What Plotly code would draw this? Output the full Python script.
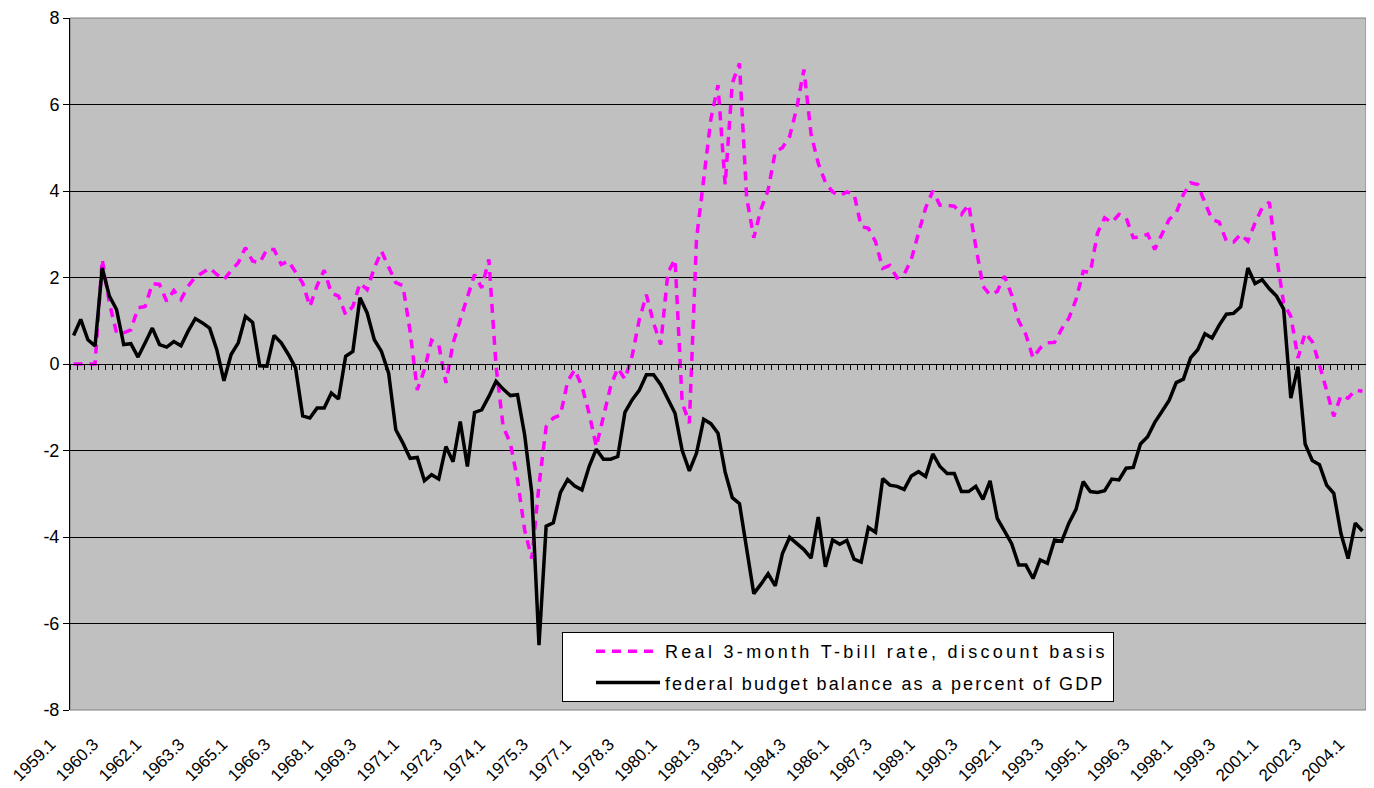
import plotly.graph_objects as go

quarters = [f"{y}.{q}" for y in range(1959, 2005) for q in range(1, 5)][:181]
tick_labels = quarters[::6]

tbill_real = [
    0, 0, 0, 0, 2.42, 1.41, 0.72, 0.72, 0.79, 1.30,
    1.33, 1.86, 1.84, 1.45, 1.70, 1.49, 1.80, 2.01, 2.11, 2.22,
    2.07, 1.95, 2.16, 2.34, 2.69, 2.38, 2.34, 2.65, 2.65, 2.30,
    2.38, 2.14, 1.87, 1.33, 1.81, 2.17, 1.64, 1.57, 1.14, 1.33,
    1.87, 1.72, 2.22, 2.61, 2.22, 1.88, 1.81, 0.75, -0.60, -0.13,
    0.55, 0.45, -0.44, 0.48, 1.02, 1.53, 2.07, 1.76, 2.42, -0.05,
    -1.45, -1.83, -2.68, -3.84, -4.50, -2.80, -1.45, -1.25, -1.18, -0.40,
    -0.13, -0.52, -1.14, -1.91, -1.22, -0.52, -0.09, -0.35, 0.18, 1.02,
    1.60, 0.95, 0.45, 2.11, 2.42, -0.90, -1.37, 2.90, 4.27, 5.66,
    6.45, 4.15, 6.50, 6.95, 3.85, 2.92, 3.58, 4.02, 4.91, 5.00,
    5.26, 5.92, 6.81, 5.31, 4.64, 4.20, 3.98, 3.89, 3.98, 3.93,
    3.18, 3.14, 2.83, 2.21, 2.28, 1.99, 2.07, 2.42, 3.03, 3.61,
    4.00, 3.67, 3.67, 3.65, 3.46, 3.69, 2.72, 1.80, 1.60, 1.68,
    2.03, 1.60, 0.99, 0.68, 0.14, 0.37, 0.49, 0.50, 0.81, 1.06,
    1.49, 2.14, 2.12, 3.03, 3.38, 3.27, 3.46, 3.38, 2.92, 2.94,
    3.00, 2.65, 3.00, 3.34, 3.50, 3.92, 4.19, 4.15, 3.73, 3.34,
    3.28, 2.84, 2.82, 3.00, 2.84, 3.26, 3.61, 3.74, 2.49, 1.41,
    1.10, 0.14, 0.72, 0.52, -0.02, -0.63, -1.21, -0.73, -0.79, -0.60,
    -0.63,
]

budget_balance = [
    0.66, 1.03, 0.56, 0.42, 2.22, 1.57, 1.26, 0.45, 0.47, 0.16,
    0.49, 0.83, 0.45, 0.39, 0.52, 0.42, 0.76, 1.05, 0.95, 0.83,
    0.33, -0.39, 0.22, 0.49, 1.10, 0.96, -0.04, -0.05, 0.66, 0.49,
    0.22, -0.09, -1.20, -1.25, -1.02, -1.02, -0.67, -0.81, 0.18, 0.29,
    1.53, 1.18, 0.56, 0.29, -0.21, -1.52, -1.83, -2.18, -2.16, -2.70,
    -2.56, -2.66, -1.91, -2.26, -1.33, -2.37, -1.12, -1.06, -0.75, -0.40,
    -0.58, -0.73, -0.71, -1.64, -2.99, -6.50, -3.75, -3.67, -2.97, -2.67,
    -2.82, -2.91, -2.37, -1.97, -2.20, -2.20, -2.14, -1.12, -0.83, -0.61,
    -0.25, -0.25, -0.48, -0.81, -1.14, -2.00, -2.47, -2.06, -1.28, -1.38,
    -1.60, -2.50, -3.09, -3.23, -4.33, -5.31, -5.09, -4.85, -5.13, -4.38,
    -4.01, -4.16, -4.29, -4.49, -3.54, -4.69, -4.07, -4.17, -4.08, -4.51,
    -4.58, -3.78, -3.89, -2.65, -2.80, -2.83, -2.90, -2.59, -2.49, -2.60,
    -2.08, -2.37, -2.53, -2.53, -2.95, -2.95, -2.83, -3.13, -2.70, -3.57,
    -3.88, -4.15, -4.65, -4.65, -4.96, -4.53, -4.61, -4.07, -4.10, -3.68,
    -3.36, -2.72, -2.95, -2.97, -2.93, -2.66, -2.68, -2.41, -2.39, -1.85,
    -1.68, -1.35, -1.10, -0.84, -0.43, -0.35, 0.14, 0.33, 0.70, 0.60,
    0.90, 1.15, 1.17, 1.32, 2.22, 1.86, 1.95, 1.74, 1.57, 1.27,
    -0.79, -0.06, -1.85, -2.23, -2.33, -2.80, -2.99, -3.92, -4.50, -3.68,
    -3.86,
]

y_ticks = [-8, -6, -4, -2, 0, 2, 4, 6, 8]
series_names = ["Real 3-month T-bill rate, discount basis",
                "federal budget balance as a percent of GDP"]

FONT = "Liberation Sans, Arial, sans-serif"


def spaced(text, px):
    return f'<span style="letter-spacing:{px}px">{text}</span>'


fig = go.Figure()
fig.add_trace(go.Scatter(
    x=quarters, y=tbill_real, mode="lines", name=spaced(series_names[0], 3.3),
    legendgroup="a",
    line=dict(color="#FF00FF", width=3.5, dash="9px,7px"),
    xaxis="x", yaxis="y", hoverinfo="skip",
))
fig.add_trace(go.Scatter(
    x=quarters, y=budget_balance, mode="lines", name=spaced(series_names[1], 2.1),
    legendgroup="b",
    line=dict(color="#000000", width=3.5),
    xaxis="x2", yaxis="y", hoverinfo="skip",
))

fig.update_layout(
    width=1366, height=780,
    margin=dict(l=62, r=8, t=10, b=78, autoexpand=False),
    paper_bgcolor="white", plot_bgcolor="#C0C0C0",
    font=dict(family=FONT, size=17, color="black"),
    showlegend=True,
    legend=dict(
        x=(562 - 70) / 1296, y=(710 - 632) / 692, xanchor="left", yanchor="top",
        bgcolor="white", bordercolor="black", borderwidth=1,
        font=dict(family=FONT, size=18, color="black"),
        itemwidth=64, tracegroupgap=5, indentation=28,
    ),
    xaxis=dict(
        type="category", categoryorder="array", categoryarray=quarters,
        range=[-0.5, 180.5],
        tickmode="array", tickvals=tick_labels, ticktext=tick_labels,
        tickangle=-45, ticks="", showgrid=False, showline=False, zeroline=False,
        ticklabelshift=-23, ticklabelstandoff=20,
        tickfont=dict(family=FONT, size=17, color="black"),
    ),
    xaxis2=dict(
        type="category", categoryorder="array", categoryarray=quarters,
        range=[-0.5, 180.5], overlaying="x", anchor="free", position=0.5,
        side="bottom", showticklabels=False, ticks="outside", ticklen=5,
        tickwidth=1, tickcolor="black", tickson="boundaries",
        tickmode="linear", tick0=0, dtick=1,
        showline=True, linecolor="black", linewidth=1,
        showgrid=False, zeroline=False,
    ),
    yaxis=dict(
        range=[-8, 8], tickmode="array", tickvals=y_ticks,
        ticktext=[str(v) for v in y_ticks],
        ticks="outside", ticklen=6, tickwidth=1, tickcolor="black",
        showline=True, linecolor="black", linewidth=1,
        showgrid=True, gridcolor="black", gridwidth=1, zeroline=False,
        tickfont=dict(family=FONT, size=18, color="black"),
    ),
    shapes=[dict(type="rect", xref="paper", yref="paper", x0=0, x1=1, y0=0, y1=1,
                 line=dict(color="#808080", width=1), layer="below")],
)

fig.write_html("out.html")
